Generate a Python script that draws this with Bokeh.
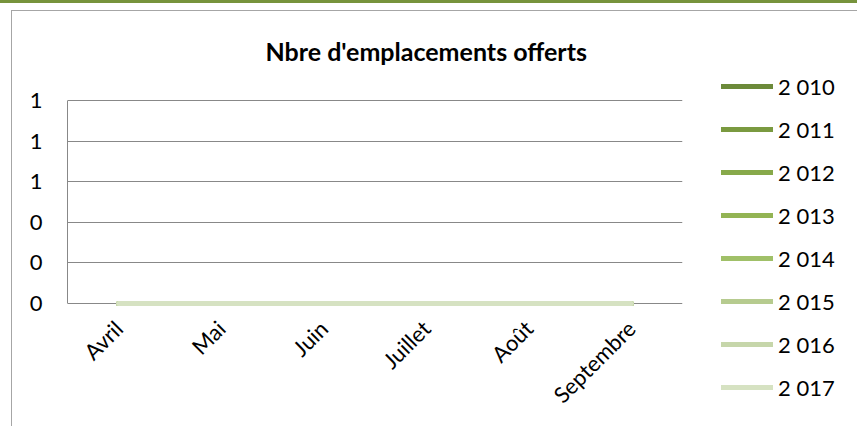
import math
from bokeh.plotting import figure
from bokeh.layouts import row
from bokeh.models import (FactorRange, Range1d, FixedTicker, Legend, LegendItem,
                          ColumnDataSource)
from bokeh.embed import file_html
from bokeh.resources import INLINE

# ---- data ----
months = ["Avril", "Mai", "Juin", "Juillet", "Août", "Septembre"]
years = ["2 010", "2 011", "2 012", "2 013", "2 014", "2 015", "2 016", "2 017"]
v2010 = [0, 0, 0, 0, 0, 0]
v2011 = [0, 0, 0, 0, 0, 0]
v2012 = [0, 0, 0, 0, 0, 0]
v2013 = [0, 0, 0, 0, 0, 0]
v2014 = [0, 0, 0, 0, 0, 0]
v2015 = [0, 0, 0, 0, 0, 0]
v2016 = [0, 0, 0, 0, 0, 0]
v2017 = [0, 0, 0, 0, 0, 0]
y_ticks = [0, 0.2, 0.4, 0.6, 0.8, 1.0]
y_tick_labels = ["0", "0", "0", "1", "1", "1"]
title_text = "Nbre d'emplacements offerts"

series = [v2010, v2011, v2012, v2013, v2014, v2015, v2016, v2017]
colors = ["#6c8a3a", "#7a9a40", "#87a94a", "#93b454", "#a0c068",
          "#b6cb8f", "#c6d6aa", "#d6e2c2"]

FONT = "Lato"
GRAY = "#888888"
H = 423

p = figure(width=689, height=H, x_range=FactorRange(factors=months),
           y_range=Range1d(-0.015, 1.005), output_backend="svg",
           toolbar_location=None,
           min_border_left=56, min_border_top=96, min_border_right=18,
           min_border_bottom=120)
p.outline_line_color = None
p.background_fill_color = "white"
p.border_fill_alpha = 0

# title
p.title.text = title_text
p.title.align = "left"
p.title.offset = 198
p.title.vertical_align = "top"
p.title.standoff = 64
p.title.text_font = FONT
p.title.text_font_style = "bold"
p.title.text_font_size = "25px"
p.title.text_color = "black"

# axes
p.yaxis.ticker = FixedTicker(ticks=y_ticks)
p.yaxis.major_label_overrides = {t: l for t, l in zip(y_ticks, y_tick_labels)}
p.yaxis.bounds = (0, 1)
p.yaxis.axis_line_color = GRAY
p.yaxis.major_tick_line_color = None
p.yaxis.minor_tick_line_color = None
p.yaxis.major_tick_out = 0
p.yaxis.major_tick_in = 0
p.yaxis.major_label_standoff = 25
p.yaxis.major_label_text_font = FONT
p.yaxis.major_label_text_font_size = "22px"
p.yaxis.major_label_text_color = "black"

p.xaxis.axis_line_color = None
p.xaxis.major_tick_line_color = None
p.xaxis.minor_tick_line_color = None
p.xaxis.major_tick_out = 0
p.xaxis.major_tick_in = 0
p.xaxis.major_label_orientation = math.pi / 4
p.xaxis.major_label_standoff = 18
p.xaxis.major_label_text_font = FONT
p.xaxis.major_label_text_font_size = "22px"
p.xaxis.major_label_text_color = "black"

p.xgrid.grid_line_color = None
p.ygrid.grid_line_color = GRAY
p.ygrid.grid_line_width = 1

# data lines
sources = []
for vals, c in zip(series, colors):
    src = ColumnDataSource(dict(x=months, y=vals))
    sources.append(src)
    p.line("x", "y", source=src, line_color=c, line_width=5, line_cap="round")

# legend panel (separate figure so the legend is not clipped by the plot frame)
lg = figure(width=157, height=H, x_range=FactorRange(factors=months),
            y_range=Range1d(10, 11),
            output_backend="svg", toolbar_location=None,
            x_axis_location=None, y_axis_location=None,
            min_border_left=0, min_border_right=0, min_border_top=0,
            min_border_bottom=0)
lg.outline_line_color = None
lg.grid.grid_line_color = None
lg.background_fill_alpha = 0
lg.border_fill_alpha = 0
try:
    lg.frame_align = False
    p.frame_align = False
except Exception:
    pass

items = []
for yr, src, c in zip(years, sources, colors):
    r = lg.line("x", "y", source=src, line_color=c, line_width=5, line_cap="round")
    items.append(LegendItem(label=yr, renderers=[r]))

legend = Legend(items=items, location=(21, 24), glyph_width=52, glyph_height=30,
                label_height=30, spacing=13, label_standoff=5, padding=0, margin=0,
                border_line_color=None, background_fill_alpha=0,
                label_text_font=FONT, label_text_font_size="22px",
                label_text_color="black")
lg.add_layout(legend)

layout = row(p, lg, spacing=0)
layout.styles = {
    "position": "relative", "left": "11px", "top": "3px",
    "box-shadow": ("-11px 0 0 0 #ffffff, -11px -3px 0 0 #77933c, "
                   "0 -3px 0 0 #77933c, "
                   "inset 0 7px 0 0 #ffffff, inset 0 8px 0 0 #a6a6a6, "
                   "inset 1px 0 0 0 #a6a6a6"),
}

open("out.html", "w").write(file_html(layout, INLINE))
